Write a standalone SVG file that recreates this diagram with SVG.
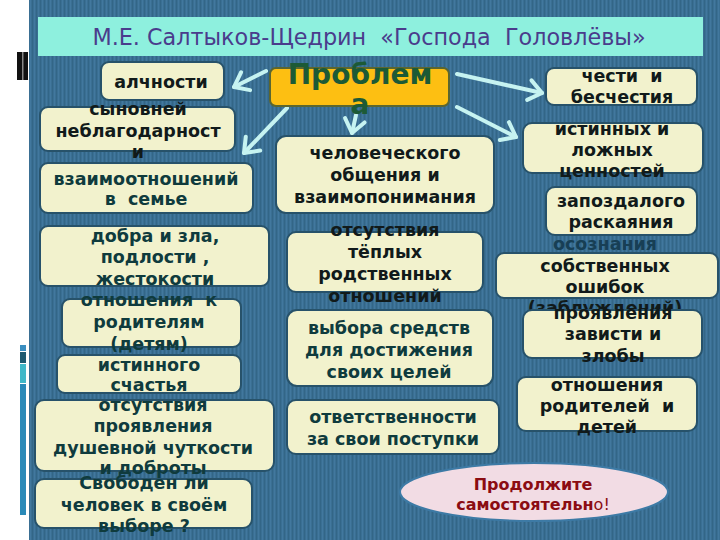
<svg xmlns="http://www.w3.org/2000/svg" width="720" height="540" viewBox="0 0 720 540">
<defs>
  <pattern id="stripes" x="0" y="0" width="4" height="10" patternUnits="userSpaceOnUse">
    <rect width="4" height="10" fill="#3a6f93"/>
    <rect x="0" width="1" height="10" fill="#336687"/>
    <rect x="2" width="1" height="10" fill="#42789e"/>
  </pattern>
  <marker id="vhead" markerUnits="userSpaceOnUse" markerWidth="32" markerHeight="32" refX="16" refY="16" orient="auto" viewBox="0 0 32 32">
    <polyline points="3,6 16,16 3,26" fill="none" stroke="#c6f3f1" stroke-width="4" stroke-linecap="round" stroke-linejoin="round"/>
  </marker>
  <style>
    .box{fill:#f2f2cd;stroke:#27526a;stroke-width:2}
    .t{font-family:"DejaVu Sans","Verdana",sans-serif;font-weight:bold;font-size:17.5px;text-anchor:middle;fill:#111a1a}
    .tt{fill:#0f3b3d}
    .arrow{fill:none;stroke:#c6f3f1;stroke-width:4;stroke-linecap:round;marker-end:url(#vhead)}
  </style>
</defs>

<rect width="720" height="540" fill="#ffffff"/>
<!-- left decorations -->
<rect x="17" y="52" width="11" height="28" fill="#111"/>
<rect x="22" y="52" width="1.5" height="28" fill="#888"/>
<rect x="20" y="345" width="6" height="6" fill="#3a8ec0"/>
<rect x="20" y="352" width="6" height="11" fill="#1e5a70"/>
<rect x="20" y="364" width="6" height="19" fill="#40b8c8"/>
<rect x="20" y="384" width="6" height="131" fill="#2a8ab8"/>

<!-- panel -->
<rect x="29" y="0" width="691" height="540" fill="url(#stripes)"/>

<!-- title -->
<g id="title">
  <rect x="38" y="17" width="665" height="39" fill="#8ef0de"/>
  <text x="369" y="45" font-family="DejaVu Sans, Verdana, sans-serif" font-size="22.3" text-anchor="middle" fill="#4a3c8c" xml:space="preserve">М.Е. Салтыков-Щедрин  «Господа  Головлёвы»</text>
</g>

<!-- connectors -->
<g id="connectors">
  <path class="arrow" d="M266,71 L234,87"/>
  <path class="arrow" d="M287,108 L244,153"/>
  <path class="arrow" d="M356,115 L352,133"/>
  <path class="arrow" d="M457,74 L542,93"/>
  <path class="arrow" d="M457,107 L516,137"/>
</g>

<!-- central node -->
<g id="problem">
  <rect x="270" y="68" width="179" height="38" rx="6" fill="#fdbf12" stroke="#5b6630" stroke-width="2"/>
  <text x="360" y="84" font-family="DejaVu Sans, Verdana, sans-serif" font-weight="bold" font-size="28" text-anchor="middle" fill="#1c5a36">Проблем<tspan x="360" y="114">а</tspan></text>
</g>

<!-- left column -->
<g id="n-alchnosti">
  <rect class="box" x="101" y="62" width="123" height="38" rx="8"/>
  <text class="t" x="161" y="88">алчности</text>
</g>
<g id="n-synovney">
  <rect class="box" x="40" y="107" width="195" height="44" rx="8"/>
  <text class="t" x="138" y="115">сыновней<tspan x="138" y="137">неблагодарност</tspan><tspan x="138" y="158">и</tspan></text>
</g>
<g id="n-vzaimo">
  <rect class="box" x="40" y="163" width="213" height="50" rx="8"/>
  <text class="t tt" x="146" y="185" xml:space="preserve">взаимоотношений<tspan x="146" y="205">в  семье</tspan></text>
</g>
<g id="n-dobra">
  <rect class="box" x="40" y="226" width="229" height="60" rx="8"/>
  <text class="t tt" x="155" y="242">добра и зла,<tspan x="155" y="263">подлости ,</tspan><tspan x="155" y="285">жестокости</tspan></text>
</g>
<g id="n-otnosheniya-k">
  <rect class="box" x="62" y="299" width="179" height="48" rx="8"/>
  <text class="t tt" x="149" y="306" xml:space="preserve">отношения  к<tspan x="149" y="328">родителям</tspan><tspan x="149" y="350">(детям)</tspan></text>
</g>
<g id="n-schastya">
  <rect class="box" x="57" y="355" width="184" height="38" rx="8"/>
  <text class="t tt" x="149" y="371">истинного<tspan x="149" y="391">счастья</tspan></text>
</g>
<g id="n-dushevnoy">
  <rect class="box" x="35" y="400" width="239" height="71" rx="9"/>
  <text class="t tt" x="153" y="411">отсутствия<tspan x="153" y="432">проявления</tspan><tspan x="153" y="454">душевной чуткости</tspan><tspan x="153" y="474">и доброты</tspan></text>
</g>
<g id="n-svoboden">
  <rect class="box" x="35" y="479" width="217" height="49" rx="9"/>
  <text class="t tt" x="144" y="489">Свободен ли<tspan x="144" y="511">человек в своём</tspan><tspan x="144" y="532">выборе ?</tspan></text>
</g>

<!-- center column -->
<g id="n-chelovecheskogo">
  <rect class="box" x="276" y="136" width="218" height="77" rx="10"/>
  <text class="t" x="385" y="159">человеческого<tspan x="385" y="181">общения и</tspan><tspan x="385" y="203">взаимопонимания</tspan></text>
</g>
<g id="n-teplykh">
  <rect class="box" x="287" y="232" width="196" height="60" rx="9"/>
  <text class="t" x="385" y="236">отсутствия<tspan x="385" y="258">тёплых</tspan><tspan x="385" y="280">родственных</tspan><tspan x="385" y="302">отношений</tspan></text>
</g>
<g id="n-vybora">
  <rect class="box" x="287" y="310" width="206" height="76" rx="10"/>
  <text class="t tt" x="389" y="334">выбора средств<tspan x="389" y="356">для достижения</tspan><tspan x="389" y="378">своих целей</tspan></text>
</g>
<g id="n-otvetstvennosti">
  <rect class="box" x="287" y="400" width="212" height="54" rx="9"/>
  <text class="t tt" x="393" y="423">ответственности<tspan x="393" y="445">за свои поступки</tspan></text>
</g>

<!-- right column -->
<g id="n-chesti">
  <rect class="box" x="546" y="68" width="151" height="37" rx="8"/>
  <text class="t" x="622" y="82" xml:space="preserve">чести  и<tspan x="622" y="103">бесчестия</tspan></text>
</g>
<g id="n-tsennostey">
  <rect class="box" x="523" y="123" width="180" height="50" rx="9"/>
  <text class="t" x="612" y="135">истинных и<tspan x="612" y="156">ложных</tspan><tspan x="612" y="177">ценностей</tspan></text>
</g>
<g id="n-raskayaniya">
  <rect class="box" x="546" y="187" width="151" height="48" rx="9"/>
  <text class="t" x="621" y="207">запоздалого<tspan x="621" y="228">раскаяния</tspan></text>
</g>
<g id="n-osoznaniya">
  <rect class="box" x="496" y="253" width="222" height="45" rx="8"/>
  <text class="t" x="605" y="250"><tspan fill="#173f55">осознания</tspan><tspan x="605" y="272">собственных</tspan><tspan x="605" y="293">ошибок</tspan><tspan x="605" y="314">(заблуждений)</tspan></text>
</g>
<g id="n-zavisti">
  <rect class="box" x="523" y="310" width="179" height="48" rx="9"/>
  <text class="t" x="613" y="319">проявления<tspan x="613" y="340">зависти и</tspan><tspan x="613" y="362">злобы</tspan></text>
</g>
<g id="n-roditeley">
  <rect class="box" x="517" y="377" width="180" height="54" rx="9"/>
  <text class="t" x="607" y="391" xml:space="preserve">отношения<tspan x="607" y="412">родителей  и</tspan><tspan x="607" y="433">детей</tspan></text>
</g>

<!-- ellipse -->
<g id="n-prodolzhite">
  <ellipse cx="534" cy="492" rx="134" ry="29" fill="#f2dce4" stroke="#3d7aa5" stroke-width="2"/>
  <text x="533" y="490" font-family="DejaVu Sans, Verdana, sans-serif" font-weight="bold" font-size="16" text-anchor="middle" fill="#8b0c12">Продолжите<tspan x="533" y="510">самостоятельн<tspan font-weight="normal">о!</tspan></tspan></text>
</g>
</svg>
